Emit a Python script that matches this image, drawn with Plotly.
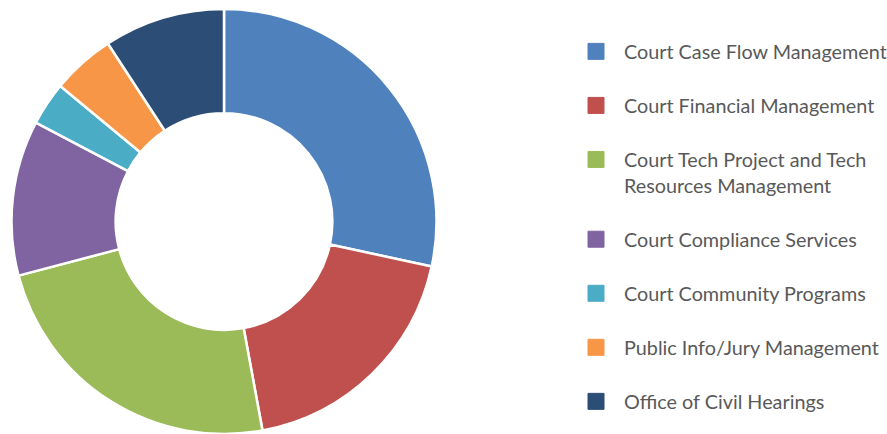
import plotly.graph_objects as go

labels = [
    "Court Case Flow Management",
    "Court Financial Management",
    "Court Tech Project and Tech<br>Resources Management",
    "Court Compliance Services",
    "Court Community Programs",
    "Public Info/Jury Management",
    "Office of Civil Hearings",
]
values = [28.4, 18.7, 23.8, 11.8, 3.3, 4.8, 9.2]
colors = ["#4F81BD", "#C0504D", "#9BBB59", "#8064A2", "#4BACC6", "#F79646", "#2C4D75"]

W, H = 887, 434
fig = go.Figure()
fig.add_trace(go.Pie(
    labels=labels, values=values, sort=False, direction="clockwise", rotation=0,
    hole=0.51, textinfo="none", showlegend=False,
    marker=dict(colors=colors, line=dict(color="white", width=2.5)),
    domain=dict(x=[(224 - 212.5) / W, (224 + 212.5) / W], y=[0, 1]),
))
# legend entries
for i, (lab, col) in enumerate(zip(labels, colors)):
    fig.add_trace(go.Scatter(
        x=[None], y=[None], mode="markers", name=lab, legendgroup=f"g{i}",
        marker=dict(symbol="square", size=16, color=col, line=dict(color=col, width=1)),
    ))

fig.update_layout(
    width=W, height=H,
    margin=dict(l=0, r=0, t=9, b=0, autoexpand=False),
    paper_bgcolor="white", plot_bgcolor="white",
    xaxis=dict(visible=False), yaxis=dict(visible=False),
    legend=dict(
        x=568 / W, xanchor="left", y=1 - 23 / 425, yanchor="top",
        font=dict(family="Lato", size=19.8, color="#595959"),
        itemwidth=46, tracegroupgap=25.3, valign="top",
        bgcolor="rgba(0,0,0,0)",
    ),
)
fig.write_html("out.html", config={"displayModeBar": False},
               post_script="document.body.style.margin='0px';")
